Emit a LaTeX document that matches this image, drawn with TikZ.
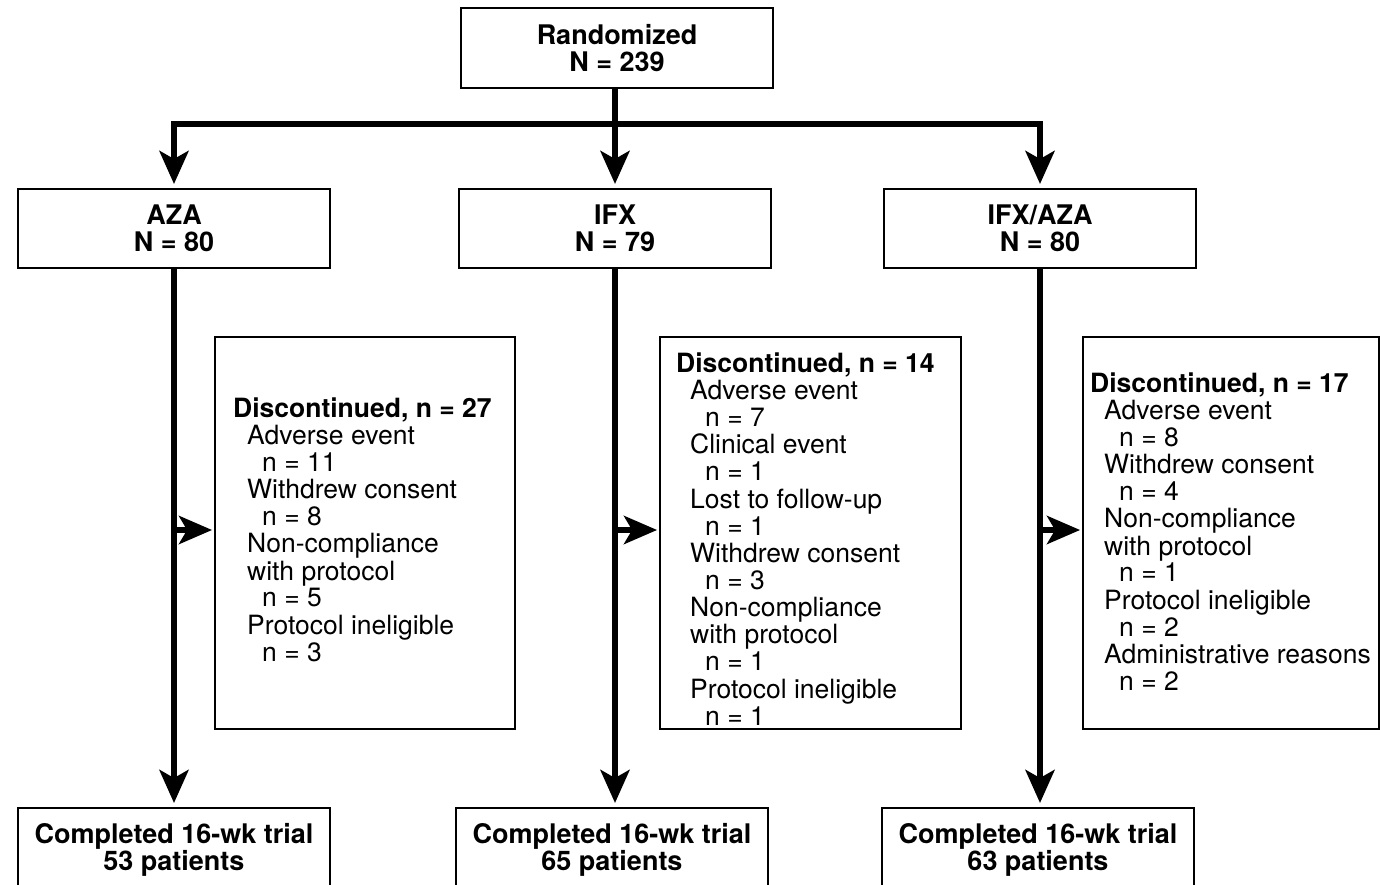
\documentclass[tikz,border=0pt]{standalone}
\usepackage{fontspec}
\setmainfont{TeX Gyre Heros}
\usetikzlibrary{arrows.meta}
\newcommand\indA{\hspace*{14pt}}
\newcommand\indB{\hspace*{29pt}}
\begin{document}
\begin{tikzpicture}[x=1pt,y=-1pt,
  box/.style={draw=black, line width=2pt, minimum width=312pt, minimum height=79pt,
    inner sep=0pt, align=center, font=\fontsize{27}{27}\selectfont\bfseries},
  dbox/.style={draw=black, line width=1.8pt, minimum height=392pt, inner sep=0pt},
  dtext/.style={anchor=base west, inner sep=0pt, font=\fontsize{26.5}{26.8}\selectfont},
  conn/.style={line width=6pt, line join=miter},
  arr/.style={conn, -{Stealth[length=33pt, width=29pt, inset=8pt]}, shorten >=4pt},
  sarr/.style={conn, -{Stealth[length=33pt, width=28pt, inset=8pt]}, shorten >=2pt}]
\useasboundingbox (0,0) rectangle (1380,885);
\fill[white] (0,0) rectangle (1380,885);

% top
\node[box, minimum height=80pt] (rand) at (617,48) {Randomized\\N = 239};
\node[box] (aza) at (174,228.5) {AZA\\N = 80};
\node[box] (ifx) at (615,228.5) {IFX\\N = 79};
\node[box] (ia) at (1040,228.5) {IFX/AZA\\N = 80};

% bottom
\node[box, minimum height=84pt] (azaC) at (174,850) {Completed 16-wk trial\\53 patients};
\node[box, minimum height=84pt] (ifxC) at (612,850) {Completed 16-wk trial\\65 patients};
\node[box, minimum height=84pt] (iaC) at (1038,850) {Completed 16-wk trial\\63 patients};

% discontinued boxes
\node[dbox, minimum width=300pt] (dA) at (365,533) {};
\node[dbox, minimum width=301pt] (dI) at (810.5,533) {};
\node[dbox, minimum width=296pt] (dIA) at (1231,533) {};

\node[dtext] (tA) at (233,417) {\begin{tabular}[t]{@{}l@{}}
\textbf{Discontinued, n = 27}\\
\indA Adverse event\\
\indB n = 11\\
\indA Withdrew consent\\
\indB n = 8\\
\indA Non-compliance\\
\indA with protocol\\
\indB n = 5\\
\indA Protocol ineligible\\
\indB n = 3
\end{tabular}};

\node[dtext] (tI) at (676,372) {\begin{tabular}[t]{@{}l@{}}
\textbf{Discontinued, n = 14}\\
\indA Adverse event\\
\indB n = 7\\
\indA Clinical event\\
\indB n = 1\\
\indA Lost to follow-up\\
\indB n = 1\\
\indA Withdrew consent\\
\indB n = 3\\
\indA Non-compliance\\
\indA with protocol\\
\indB n = 1\\
\indA Protocol ineligible\\
\indB n = 1
\end{tabular}};

\node[dtext] (tIA) at (1090,392) {\begin{tabular}[t]{@{}l@{}}
\textbf{Discontinued, n = 17}\\
\indA Adverse event\\
\indB n = 8\\
\indA Withdrew consent\\
\indB n = 4\\
\indA Non-compliance\\
\indA with protocol\\
\indB n = 1\\
\indA Protocol ineligible\\
\indB n = 2\\
\indA Administrative reasons\\
\indB n = 2
\end{tabular}};

% connectors
\coordinate (j) at (615,124);
\draw[conn] (rand.south -| j) -- (j);
\draw[arr] (j) -| (aza.north);
\draw[arr] (j) -| (ia.north);
\draw[arr] (j) -- (ifx.north);

\draw[arr] (aza.south) -- (aza.south |- azaC.north);
\draw[arr] (ifx.south) -- (ifx.south |- ifxC.north);
\draw[arr] (ia.south) -- (ia.south |- iaC.north);

\coordinate (mA) at (174,530);
\coordinate (mI) at (615,530);
\coordinate (mIA) at (1040,530);
\draw[sarr] (mA) -- (mA -| dA.west);
\draw[sarr] (mI) -- (mI -| dI.west);
\draw[sarr] (mIA) -- (mIA -| dIA.west);
\end{tikzpicture}
\end{document}
